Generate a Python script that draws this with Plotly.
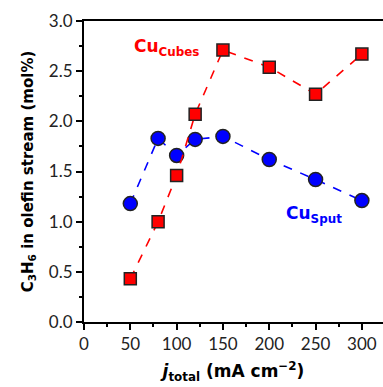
import plotly.graph_objects as go

# Current density (mA cm^-2)
j_total = [50, 80, 100, 120, 150, 200, 250, 300]
# Propylene share in olefin stream (mol%)
c3h6_cubes = [0.43, 1.00, 1.46, 2.07, 2.71, 2.54, 2.27, 2.67]
c3h6_sput = [1.18, 1.83, 1.66, 1.82, 1.85, 1.62, 1.42, 1.21]

FONT = "DejaVu Sans"
TICK_FONT = "Lato"

fig = go.Figure()
fig.add_trace(go.Scatter(
    x=j_total, y=c3h6_sput, mode="lines+markers",
    line=dict(color="#0000ff", width=1.6, dash="dash"),
    marker=dict(symbol="circle", size=14, color="#0000ff",
                line=dict(color="#222222", width=1.5)),
    showlegend=False))
fig.add_trace(go.Scatter(
    x=j_total, y=c3h6_cubes, mode="lines+markers",
    line=dict(color="#ff0000", width=1.6, dash="dash"),
    marker=dict(symbol="square", size=12, color="#ff0000",
                line=dict(color="#222222", width=1.5)),
    showlegend=False))

fig.add_annotation(x=52, y=2.74, xref="x", yref="y", xanchor="left",
                   text="<b>Cu<sub>Cubes</sub></b>", showarrow=False,
                   font=dict(family=FONT, size=17, color="#ff0000"))
fig.add_annotation(x=216, y=1.07, xref="x", yref="y", xanchor="left",
                   text="<b>Cu<sub>Sput</sub></b>", showarrow=False,
                   font=dict(family=FONT, size=17, color="#0000ff"))

fig.update_layout(
    width=383, height=387,
    margin=dict(l=84, r=0, t=21, b=65),
    plot_bgcolor="white", paper_bgcolor="white",
    font=dict(family=FONT, color="#222222"),
    xaxis=dict(
        range=[0, 322.8], tickvals=[0, 50, 100, 150, 200, 250, 300],
        ticks="outside", ticklen=6, tickwidth=1.5, tickcolor="black",
        minor=dict(dtick=25, tick0=0, ticks="outside", ticklen=3,
                   tickwidth=1.5, tickcolor="black"),
        showline=True, linecolor="black", linewidth=2, mirror=True,
        showgrid=False, zeroline=False,
        tickfont=dict(family=TICK_FONT, size=17, color="#222222"),
        title=dict(text="<b><i>j</i><sub>total</sub> (mA cm<sup>−2</sup>)</b>",
                   font=dict(family=FONT, size=17, color="black"), standoff=12),
    ),
    yaxis=dict(
        range=[0, 3.0], dtick=0.5, tickformat=".1f",
        ticks="outside", ticklen=6, tickwidth=1.5, tickcolor="black",
        minor=dict(dtick=0.25, ticks="outside", ticklen=3,
                   tickwidth=1.5, tickcolor="black"),
        showline=True, linecolor="black", linewidth=2,
        showgrid=False, zeroline=False,
        tickfont=dict(family=TICK_FONT, size=17, color="#222222"),
        title=dict(text="<b>C<sub>3</sub>H<sub>6</sub> in olefin stream (mol%)</b>",
                   font=dict(family=FONT, size=15, color="black"), standoff=12),
    ),
)

fig.write_html("out.html")
